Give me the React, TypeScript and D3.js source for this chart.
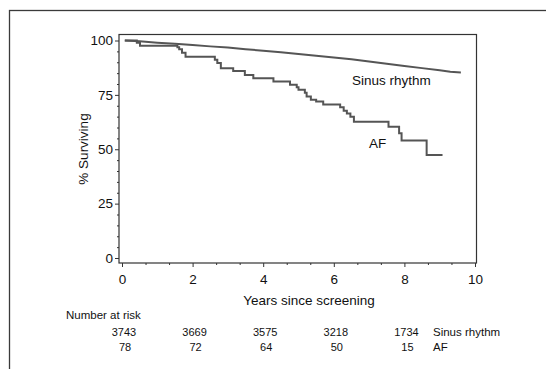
import React, { useRef, useEffect } from "react";
import * as d3 from "d3";

// Kaplan-Meier survival (years, % surviving)
const sinusYears = [0.08, 0.5, 1.0, 1.5, 2.0, 2.5, 3.0, 3.5, 4.0, 4.5, 5.0, 5.5, 6.0, 6.5, 7.0, 7.5, 8.0, 8.5, 9.0, 9.3, 9.6];
const sinusSurv = [100, 99.6, 99.0, 98.5, 97.9, 97.3, 96.8, 96.0, 95.3, 94.6, 93.8, 93.0, 92.2, 91.4, 90.3, 89.3, 88.3, 87.3, 86.3, 85.6, 85.3];

const afYears = [0.08, 0.42, 0.51, 1.57, 1.62, 1.7, 1.8, 2.63, 2.7, 2.8, 3.15, 3.48, 3.72, 4.29, 4.76, 4.95, 5.0, 5.18, 5.23, 5.35, 5.5, 5.7, 6.18, 6.28, 6.37, 6.47, 6.57, 7.55, 7.85, 7.92, 8.63, 9.08];
const afSurv = [100, 99.0, 97.6, 96.9, 96.0, 94.4, 92.5, 91.2, 89.6, 87.2, 86.0, 84.1, 82.6, 81.1, 79.6, 78.5, 77.4, 76.0, 74.3, 72.8, 71.9, 70.6, 69.3, 67.7, 66.4, 65.0, 62.7, 60.4, 57.3, 54.0, 47.3, 47.3];

const xMajor = [0, 2, 4, 6, 8, 10];
const yMajor = [0, 25, 50, 75, 100];

const riskYears = [0, 2, 4, 6, 8];
const riskSinus = [3743, 3669, 3575, 3218, 1734];
const riskAF = [78, 72, 64, 50, 15];

const W = 546;
const H = 369;
const FONT = "'Liberation Sans', Arial, Helvetica, sans-serif";

export default function App() {
  const ref = useRef<SVGSVGElement>(null);

  useEffect(() => {
    const svg = d3.select(ref.current);
    svg.selectAll("*").remove();

    const x = d3.scaleLinear().domain([0, 10]).range([122, 475]);
    const y = d3.scaleLinear().domain([0, 100]).range([258, 40.5]);
    const box = { left: 119, top: 34.5, right: 476.5, bottom: 263 };

    // outer frame, only top/left edges visible
    svg.append("rect")
      .attr("x", 9.5).attr("y", 10.5).attr("width", 700).attr("height", 500)
      .attr("fill", "none").attr("stroke", "#3a3a3a").attr("stroke-width", 1.3);

    svg.append("rect")
      .attr("x", box.left).attr("y", box.top)
      .attr("width", box.right - box.left).attr("height", box.bottom - box.top)
      .attr("fill", "none").attr("stroke", "#333").attr("stroke-width", 1.2);

    // y axis
    const gy = svg.append("g").attr("transform", `translate(${box.left},0)`);
    gy.call(d3.axisLeft(y).tickValues(yMajor).tickSize(4).tickPadding(2).tickFormat(d3.format("d")));
    gy.append("g").call(
      d3.axisLeft(y).tickValues(d3.range(0, 101, 5).filter(v => v % 25 !== 0)).tickSize(2).tickFormat(() => "")
    );
    gy.selectAll(".domain").remove();

    // x axis
    const gx = svg.append("g").attr("transform", `translate(0,${box.bottom})`);
    gx.call(d3.axisBottom(x).tickValues(xMajor).tickSize(4).tickPadding(7).tickFormat(d3.format("d")));
    gx.append("g").call(
      d3.axisBottom(x)
        .tickValues(d3.range(0, 16).map(i => (i * 2) / 3).filter((v, i) => i % 3 !== 0))
        .tickSize(2).tickFormat(() => "")
    );
    gx.selectAll(".domain").remove();

    svg.selectAll(".tick line").attr("stroke", "#333").attr("stroke-width", 1);
    svg.selectAll(".tick text").attr("font-family", FONT).attr("font-size", 13.5).attr("fill", "#111");

    const line = d3.line<[number, number]>().x(d => x(d[0])).y(d => y(d[1]));

    svg.append("path")
      .datum(d3.zip(sinusYears, sinusSurv) as [number, number][])
      .attr("d", line.curve(d3.curveLinear))
      .attr("fill", "none").attr("stroke", "#555").attr("stroke-width", 2);

    svg.append("path")
      .datum(d3.zip(afYears, afSurv) as [number, number][])
      .attr("d", line.curve(d3.curveStepAfter))
      .attr("fill", "none").attr("stroke", "#555").attr("stroke-width", 2);

    const text = (t: string, tx: number, ty: number, size: number, anchor = "start") =>
      svg.append("text").text(t).attr("x", tx).attr("y", ty)
        .attr("font-family", FONT).attr("font-size", size).attr("fill", "#111")
        .attr("text-anchor", anchor);

    text("Sinus rhythm", 352, 85, 13.5);
    text("AF", 369, 148, 13.5);
    text("Years since screening", 309, 305, 13.5, "middle");
    text("% Surviving", 0, 0, 13.5, "middle")
      .attr("transform", `translate(88,149) rotate(-90)`);

    text("Number at risk", 66, 319, 11.5);
    riskYears.forEach((t, i) => {
      text(String(riskSinus[i]), x(t) + 2, 336, 11, "middle");
      text(String(riskAF[i]), x(t) + 3, 351, 11, "middle");
    });
    text("Sinus rhythm", 433, 336, 11.5);
    text("AF", 433, 351, 11.5);
  }, []);

  return (
    <svg ref={ref} width={W} height={H}
      style={{ position: "absolute", left: 0, top: 0, background: "#fff" }} />
  );
}
